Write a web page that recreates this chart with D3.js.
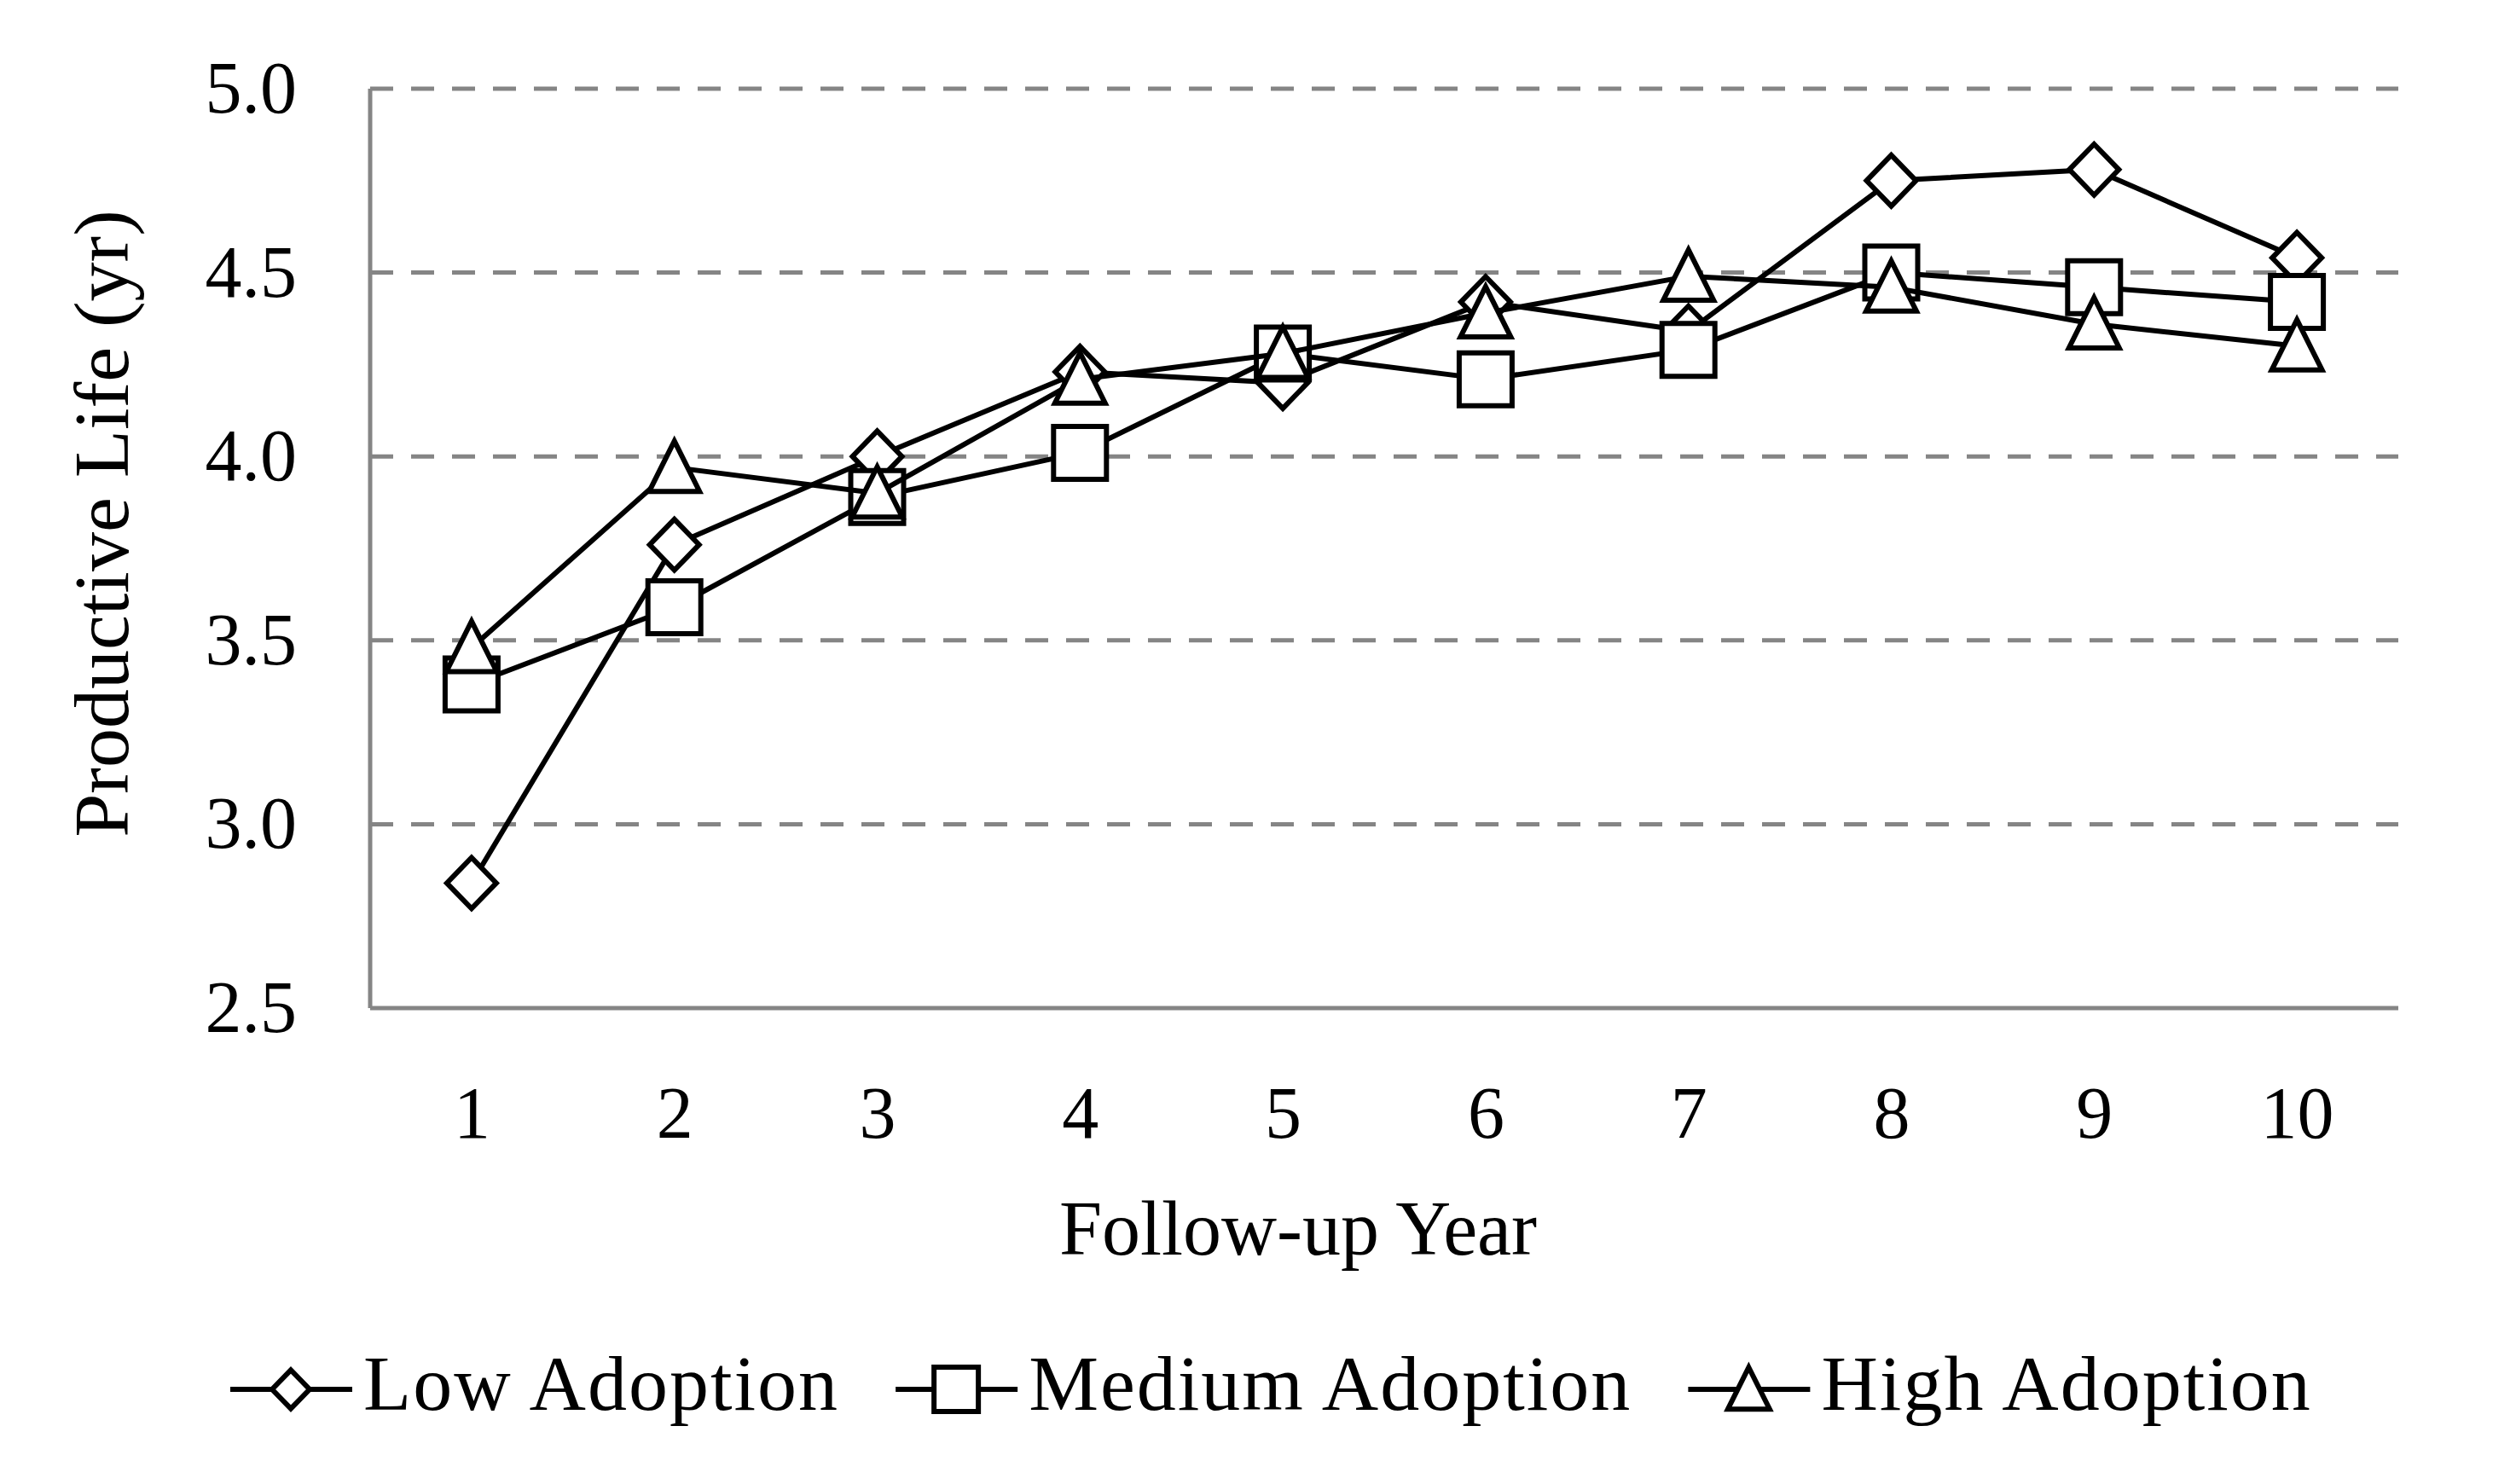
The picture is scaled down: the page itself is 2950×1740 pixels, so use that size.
<!DOCTYPE html>
<html>
<head>
<meta charset="utf-8">
<script src="https://cdn.jsdelivr.net/npm/d3@7"></script>
<style>
  body { margin: 0; background: #fff; }
  svg { display: block; font-family: "Liberation Serif", "Times New Roman", serif; }
</style>
</head>
<body>
<svg id="chart" width="2950" height="1740"></svg>
<script>
// chart data
const years = [1, 2, 3, 4, 5, 6, 7, 8, 9, 10];
const lowAdoption    = [2.84, 3.76, 4.00, 4.23, 4.20, 4.42, 4.34, 4.75, 4.78, 4.54];
const mediumAdoption = [3.38, 3.59, 3.89, 4.01, 4.28, 4.21, 4.29, 4.50, 4.46, 4.42];
const highAdoption   = [3.48, 3.97, 3.90, 4.21, 4.28, 4.39, 4.49, 4.46, 4.36, 4.30];
const seriesNames = ["Low Adoption", "Medium Adoption", "High Adoption"];
const yTicks = [2.5, 3.0, 3.5, 4.0, 4.5, 5.0];

const svg = d3.select("#chart");
const margin = {top: 104, right: 138, bottom: 558, left: 434};
const width = 2950 - margin.left - margin.right;
const height = 1740 - margin.top - margin.bottom;

const g = svg.append("g")
    .attr("transform", `translate(${margin.left}, ${margin.top})`);

const x = d3.scalePoint()
    .domain(years)
    .range([0, width])
    .padding(0.5);

const y = d3.scaleLinear()
    .domain([2.5, 5.0])
    .range([height, 0]);

// dashed gridlines
g.append("g")
    .selectAll("line")
    .data(yTicks.filter(d => d > 2.5))
    .join("line")
    .attr("x1", 0)
    .attr("x2", width)
    .attr("y1", d => y(d))
    .attr("y2", d => y(d))
    .attr("stroke", "#858585")
    .attr("stroke-width", 5)
    .attr("stroke-dasharray", "27,21");

// y axis
const yAxis = g.append("g")
    .call(d3.axisLeft(y).tickValues(yTicks).tickSize(0).tickPadding(86)
        .tickFormat(d3.format(".1f")));
yAxis.select(".domain").remove();
yAxis.selectAll("text")
    .attr("font-size", 86)
    .attr("fill", "#000")
    .attr("font-family", "Liberation Serif");

// x axis
const xAxis = g.append("g")
    .attr("transform", `translate(0, ${height})`)
    .call(d3.axisBottom(x).tickSize(0).tickPadding(91));
xAxis.select(".domain").remove();
xAxis.selectAll("text")
    .attr("font-size", 86)
    .attr("fill", "#000")
    .attr("font-family", "Liberation Serif");

// axis lines
g.append("line")
    .attr("x1", 0).attr("x2", 0)
    .attr("y1", 0).attr("y2", height)
    .attr("stroke", "#858585").attr("stroke-width", 5);
g.append("line")
    .attr("x1", 0).attr("x2", width)
    .attr("y1", height).attr("y2", height)
    .attr("stroke", "#858585").attr("stroke-width", 5);

// axis titles
svg.append("text")
    .attr("transform", "translate(150, 614) rotate(-90)")
    .attr("text-anchor", "middle")
    .attr("font-size", 92)
    .text("Productive Life (yr)");

svg.append("text")
    .attr("x", 1522)
    .attr("y", 1471)
    .attr("text-anchor", "middle")
    .attr("font-size", 90)
    .text("Follow-up Year");

// marker shapes
function markerPath(type, s) {
    if (type === "diamond") {
        return `M0,${-s * 1.03}L${s},0L0,${s * 1.03}L${-s},0Z`;
    } else if (type === "square") {
        return `M${-s},${-s}H${s}V${s}H${-s}Z`;
    } else {
        return `M0,${-s * 1.05}L${s},${s * 0.95}L${-s},${s * 0.95}Z`;
    }
}

const series = [
    {name: seriesNames[0], values: lowAdoption, marker: "diamond", size: 29, legendSize: 22},
    {name: seriesNames[1], values: mediumAdoption, marker: "square", size: 31, legendSize: 26},
    {name: seriesNames[2], values: highAdoption, marker: "triangle", size: 29.5, legendSize: 24.5}
];

const line = d3.line()
    .x((d, i) => x(years[i]))
    .y(d => y(d));

series.forEach(s => {
    const sg = g.append("g");
    sg.append("path")
        .datum(s.values)
        .attr("d", line)
        .attr("fill", "none")
        .attr("stroke", "#000")
        .attr("stroke-width", 6)
        .attr("stroke-linejoin", "round");
    sg.selectAll(".marker")
        .data(s.values)
        .join("path")
        .attr("class", "marker")
        .attr("transform", (d, i) => `translate(${x(years[i])}, ${y(d)})`)
        .attr("d", markerPath(s.marker, s.size))
        .attr("fill", "#fff")
        .attr("stroke", "#000")
        .attr("stroke-width", 6);
});

// legend
const legend = svg.append("g")
    .attr("transform", "translate(270, 1629)");
let lx = 0;
series.forEach(s => {
    const item = legend.append("g").attr("transform", `translate(${lx}, 0)`);
    item.append("line")
        .attr("x1", 0).attr("x2", 143)
        .attr("y1", 0).attr("y2", 0)
        .attr("stroke", "#000")
        .attr("stroke-width", 6);
    item.append("path")
        .attr("transform", "translate(71, 0)")
        .attr("d", markerPath(s.marker, s.legendSize))
        .attr("fill", "#fff")
        .attr("stroke", "#000")
        .attr("stroke-width", 6);
    const t = item.append("text")
        .attr("x", 156)
        .attr("y", 24)
        .attr("font-size", 92)
        .attr("letter-spacing", 2)
        .text(s.name);
    lx += 156 + t.node().getComputedTextLength() + 66;
});
</script>
</body>
</html>
